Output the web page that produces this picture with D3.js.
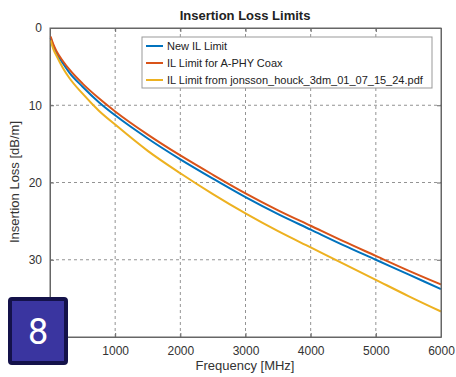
<!DOCTYPE html>
<html><head><meta charset="utf-8">
<script src="https://cdn.jsdelivr.net/npm/d3@7"></script>
<style>body{margin:0;background:#fff}svg{display:block;font-family:"Liberation Sans",Arial,sans-serif}</style>
</head><body><svg id="c" width="456" height="377"></svg>
<script>
const freqs = [10,50,100,200,300,500,750,1000,1500,2000,2500,3000,3500,4000,4500,5000,5500,6000];
const newIL = [1.3,2.3,3.2,4.6,5.8,7.6,9.6,11.3,14.3,17.0,19.5,21.9,24.1,26.1,28.1,30.0,31.9,33.8];
const aphyIL = [1.1,2.1,3.0,4.3,5.4,7.2,9.1,10.8,13.8,16.5,19.0,21.4,23.6,25.6,27.6,29.5,31.4,33.2];
const jhIL = [1.6,2.7,3.6,5.2,6.5,8.5,10.7,12.5,15.9,18.8,21.5,24.0,26.3,28.4,30.5,32.6,34.7,36.7];
const seriesNames = ["New IL Limit","IL Limit for A-PHY Coax","IL Limit from jonsson_houck_3dm_01_07_15_24.pdf"];
const seriesColors = ["#0072BD","#D95319","#EDB120"];
const xTicks = [0,1000,2000,3000,4000,5000,6000];
const yTicks = [0,10,20,30,40];

const svg = d3.select("#c");
const m = {l:50,r:441,t:28,b:337};
const x = d3.scaleLinear().domain([0,6000]).range([m.l,m.r]);
const y = d3.scaleLinear().domain([0,40]).range([m.t,m.b]);

// grid
svg.append("g").selectAll("line").data(xTicks.slice(1,-1)).join("line")
  .attr("x1",d=>x(d)).attr("x2",d=>x(d)).attr("y1",m.t).attr("y2",m.b)
  .attr("stroke","#777").attr("stroke-width",0.8).attr("stroke-dasharray","3,3");
svg.append("g").selectAll("line").data(yTicks.slice(1,-1)).join("line")
  .attr("y1",d=>y(d)).attr("y2",d=>y(d)).attr("x1",m.l).attr("x2",m.r)
  .attr("stroke","#777").attr("stroke-width",0.8).attr("stroke-dasharray","3,3");

// axes (labels hidden behind the badge are left out)
const xa = svg.append("g").attr("transform",`translate(0,${m.b})`)
  .call(d3.axisBottom(x).tickValues(xTicks).tickSizeInner(-4).tickSizeOuter(0).tickPadding(9).tickFormat(d=>d===0?"":d3.format("d")(d)));
const xt = svg.append("g").attr("transform",`translate(0,${m.t})`)
  .call(d3.axisTop(x).tickValues(xTicks).tickSizeInner(-4).tickSizeOuter(0).tickFormat(""));
const ya = svg.append("g").attr("transform",`translate(${m.l},0)`)
  .call(d3.axisLeft(y).tickValues(yTicks).tickSizeInner(-4).tickSizeOuter(0).tickPadding(8).tickFormat(d=>d===40?"":d));
const yr = svg.append("g").attr("transform",`translate(${m.r},0)`)
  .call(d3.axisRight(y).tickValues(yTicks).tickSizeInner(-4).tickSizeOuter(0).tickFormat(""));
[xa,xt,ya,yr].forEach(g=>{
  g.selectAll("path").attr("stroke","#666");
  g.selectAll("line").attr("stroke","#666");
  g.selectAll("text").attr("fill","#333").attr("font-size",12);
});

// lines
const line = d3.line().x((d,i)=>x(freqs[i])).y(d=>y(d)).curve(d3.curveMonotoneX);
[newIL,aphyIL,jhIL].forEach((s,i)=>{
  svg.append("path").datum(s).attr("d",line).attr("fill","none")
    .attr("stroke",seriesColors[i]).attr("stroke-width",2);
});
svg.append("rect").attr("x",m.l).attr("y",m.t).attr("width",m.r-m.l).attr("height",m.b-m.t)
  .attr("fill","none").attr("stroke","#666").attr("stroke-width",1);

// legend
const lg = svg.append("g");
lg.append("rect").attr("x",142).attr("y",37).attr("width",290).attr("height",51)
  .attr("fill","#fff").attr("stroke","#999").attr("stroke-width",1);
seriesNames.forEach((n,i)=>{
  const yy = 46 + i*17;
  lg.append("line").attr("x1",146).attr("x2",163).attr("y1",yy).attr("y2",yy)
    .attr("stroke",seriesColors[i]).attr("stroke-width",2);
  lg.append("text").attr("x",167).attr("y",yy+4).attr("font-size",11).attr("fill","#222").text(n);
});

// title & labels
svg.append("text").attr("x",245).attr("y",20).attr("text-anchor","middle")
  .attr("font-size",13).attr("font-weight","bold").attr("fill","#222").text("Insertion Loss Limits");
svg.append("text").attr("x",245).attr("y",370).attr("text-anchor","middle")
  .attr("font-size",13).attr("fill","#333").text("Frequency [MHz]");
svg.append("text").attr("transform","translate(19,182) rotate(-90)").attr("text-anchor","middle")
  .attr("font-size",13).attr("fill","#333").text("Insertion Loss [dB/m]");

// badge
svg.append("rect").attr("x",10).attr("y",299).attr("width",56).attr("height",64).attr("rx",2)
  .attr("fill","#3a35a0").attr("stroke","#14124a").attr("stroke-width",4);
svg.append("text").attr("x",38).attr("y",344).attr("text-anchor","middle")
  .attr("font-size",36).attr("fill","#fff").attr("font-family","Roboto, sans-serif").text("8");
</script></body></html>
